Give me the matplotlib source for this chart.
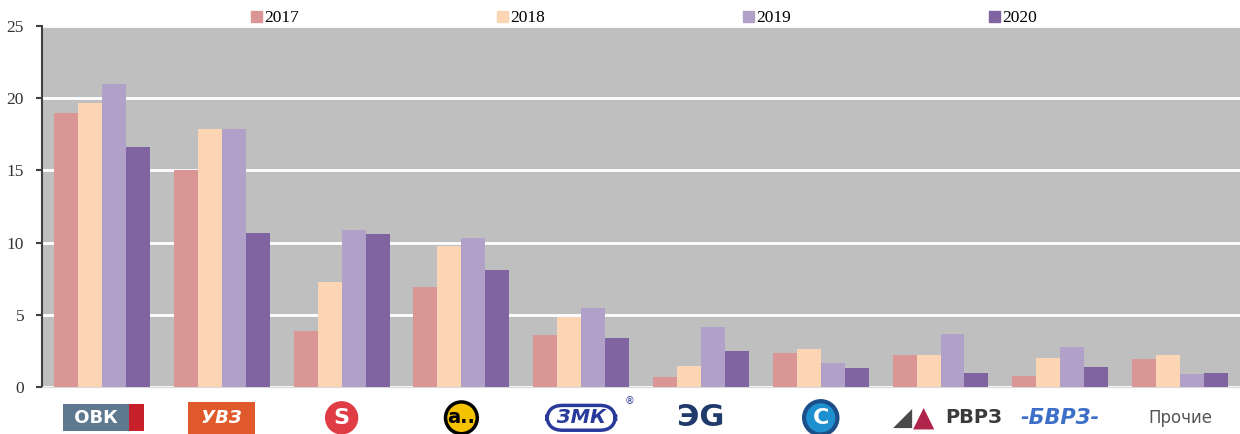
import numpy as np
import matplotlib.pyplot as plt
from matplotlib.patches import Patch
from matplotlib.transforms import blended_transform_factory

# производители (логотипы по оси X) и доли по годам, %
makers = ["ОВК", "УВЗ", "S", "а", "ЗМК", "ЭG", "С", "РВРЗ", "БВРЗ", "Прочие"]
years = ["2017", "2018", "2019", "2020"]
v2017 = [19.0, 15.0, 3.9, 6.9, 3.6, 0.7, 2.35, 2.2, 0.8, 1.95]
v2018 = [19.7, 17.9, 7.25, 9.8, 4.85, 1.45, 2.65, 2.2, 2.05, 2.25]
v2019 = [21.0, 17.9, 10.85, 10.35, 5.45, 4.15, 1.65, 3.65, 2.8, 0.9]
v2020 = [16.6, 10.7, 10.6, 8.1, 3.4, 2.5, 1.3, 1.0, 1.4, 1.0]
colors = ["#DA9694", "#FCD5B4", "#B1A0C7", "#8064A2"]

fig = plt.figure(figsize=(12.4, 4.34), dpi=100)
ax = fig.add_axes([0.034, 0.108, 0.966, 0.832])
ax.set_facecolor("#BFBFBF")

x = np.arange(len(makers))
w = 0.2
for i, (vals, c) in enumerate(zip([v2017, v2018, v2019, v2020], colors)):
    ax.bar(x + (i - 1.5) * w, vals, w, color=c, zorder=3)

ax.set_xlim(-0.5, len(makers) - 0.5)
ax.set_ylim(0, 25)
ax.set_yticks([0, 5, 10, 15, 20, 25])
ax.yaxis.grid(True, color="white", linewidth=2, zorder=1)
ax.set_axisbelow(True)
ax.tick_params(axis="y", direction="out", length=4, width=1.5, color="#404040",
               labelsize=12.5, pad=9)
for lab in ax.get_yticklabels():
    lab.set_fontfamily("Liberation Serif")
    lab.set_color("#333333")
ax.set_xticks([])
for s in ["top", "right"]:
    ax.spines[s].set_visible(False)
ax.spines["left"].set_color("#404040")
ax.spines["left"].set_linewidth(1.5)
ax.spines["bottom"].set_color("#D9D9D9")

handles = [Patch(color=c) for c in colors]
fig.legend(handles, years, loc="center left", ncol=4, mode="expand",
           bbox_to_anchor=(0.197, 0.958, 0.645, 0), frameon=False,
           prop={"family": "Liberation Serif", "size": 12.5},
           handlelength=0.6, handleheight=0.6, handletextpad=0.15, borderaxespad=0)

# подписи-"логотипы" под группами
tr = blended_transform_factory(ax.transData, ax.transAxes)
yy = -0.085
ax.text(0, yy, " ОВК   ", transform=tr, ha="center", va="center", color="white",
        fontsize=13, fontweight="bold",
        bbox=dict(boxstyle="square,pad=0.25", fc="#5E7890", ec="none"))
ax.text(0.29, yy, " ", transform=tr, ha="center", va="center", fontsize=13,
        bbox=dict(boxstyle="square,pad=0.25", fc="#C8202A", ec="none"))
ax.text(1, yy, " УВЗ ", transform=tr, ha="center", va="center", color="white",
        fontsize=13, fontweight="bold", fontstyle="italic",
        bbox=dict(boxstyle="square,pad=0.4", fc="#E0592A", ec="none"))
ax.text(2, yy, "S", transform=tr, ha="center", va="center", color="white",
        fontsize=16, fontweight="bold",
        bbox=dict(boxstyle="circle,pad=0.3", fc="#E03C45", ec="none"))
ax.text(3, yy, "а..", transform=tr, ha="center", va="center", color="black",
        fontsize=14, fontweight="bold",
        bbox=dict(boxstyle="circle,pad=0.1", fc="#F5C200", ec="black", lw=2.5))
ax.text(4, yy, " ЗМК ", transform=tr, ha="center", va="center",
        color="#2A3A9A", fontsize=14, fontweight="bold", fontstyle="italic",
        bbox=dict(boxstyle="round,pad=0.15,rounding_size=0.8", fc="white",
                  ec="#2A3A9A", lw=2.5))
ax.text(4.4, -0.04, "®", transform=tr, ha="center", va="center", color="#2A3A9A",
        fontsize=7)
ax.text(5, yy, "ЭG", transform=tr, ha="center", va="center",
        color="#1F3A6B", fontsize=22, fontweight="bold")
ax.text(6, yy, "С", transform=tr, ha="center", va="center", color="white",
        fontsize=16, fontweight="bold",
        bbox=dict(boxstyle="circle,pad=0.3", fc="#1E90D0", ec="#1C4F8A", lw=3))
ax.text(6.68, yy, "◢", transform=tr, ha="center", va="center",
        color="#4A4A4A", fontsize=18)
ax.text(6.86, yy, "▲", transform=tr, ha="center", va="center",
        color="#B0234A", fontsize=20)
ax.text(7.28, yy, "РВРЗ", transform=tr, ha="center", va="center",
        color="#3A3A3A", fontsize=14, fontweight="bold")
ax.text(8, yy, "-БВРЗ-", transform=tr, ha="center", va="center",
        color="#3D6FC8", fontsize=15, fontweight="bold", fontstyle="italic")
ax.text(9, yy, "Прочие", transform=tr, ha="center", va="center",
        color="#555555", fontsize=12)

fig.savefig("out.png", dpi=100)
